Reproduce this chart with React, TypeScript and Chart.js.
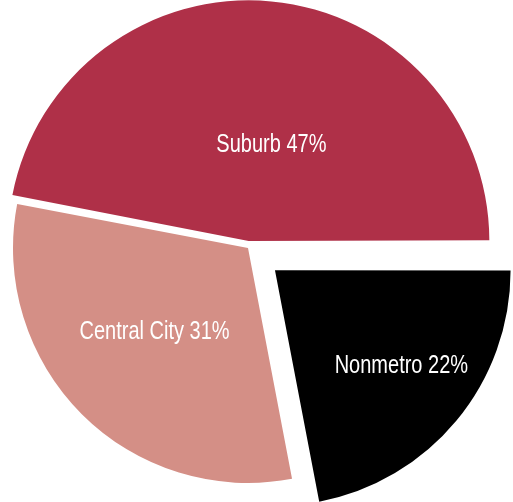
import React, { useEffect, useRef } from "react";
import { Chart, registerables } from "chart.js";

Chart.register(...registerables);

const categories = ["Nonmetro", "Central City", "Suburb"];
const shares = [22, 31, 47];
const sliceColors = ["#000000", "#D48F86", "#AF3048"];
// explode distance in pixels (Chart.js divides the arc offset option by 4)
const sliceOffsetPx = [35, 0, 7];
const labelRadiusFrac = [0.67, 0.53, 0.43];
const labelAngleShiftDeg = [-3, 3.6, 7.6];

const labelPlugin = {
  id: "sliceLabels",
  afterDatasetsDraw(chart: any) {
    const ctx = chart.ctx;
    const meta = chart.getDatasetMeta(0);
    const fontSize = 25;
    const squeeze = 0.8;
    ctx.save();
    ctx.fillStyle = "#ffffff";
    ctx.font = `${fontSize}px 'Liberation Sans', Arial, sans-serif`;
    ctx.textAlign = "center";
    ctx.textBaseline = "alphabetic";
    meta.data.forEach((arc: any, i: number) => {
      const p = arc.getProps(["x", "y", "startAngle", "endAngle", "outerRadius"], true);
      const mid = (p.startAngle + p.endAngle) / 2;
      const off = sliceOffsetPx[i];
      const ox = p.x + Math.cos(mid) * off;
      const oy = p.y + Math.sin(mid) * off;
      const a = mid + (labelAngleShiftDeg[i] * Math.PI) / 180;
      const d = labelRadiusFrac[i] * p.outerRadius;
      const lx = ox + Math.cos(a) * d;
      const ly = oy + Math.sin(a) * d;
      ctx.save();
      ctx.translate(lx, ly + fontSize * 0.36);
      ctx.scale(squeeze, 1);
      ctx.fillText(`${categories[i]} ${shares[i]}%`, 0, 0);
      ctx.restore();
    });
    ctx.restore();
  },
};

export default function App() {
  const ref = useRef<HTMLCanvasElement | null>(null);
  useEffect(() => {
    if (!ref.current) return;
    const chart = new Chart(ref.current, {
      type: "pie",
      data: {
        labels: categories,
        datasets: [
          {
            data: shares,
            backgroundColor: sliceColors,
            borderWidth: 0,
            offset: sliceOffsetPx.map((v) => v * 4),
          },
        ],
      },
      options: {
        responsive: false,
        animation: false,
        rotation: 90,
        radius: 235,
        layout: { padding: { left: 0, right: 17, top: 0, bottom: 6 } },
        plugins: {
          legend: { display: false },
          tooltip: { enabled: false },
        },
        events: [],
      },
      plugins: [labelPlugin],
    } as any);
    return () => chart.destroy();
  }, []);
  return (
    <div style={{ position: "fixed", left: 0, top: 0, width: 513, height: 502, background: "#ffffff" }}>
      <canvas ref={ref} width={513} height={502} style={{ display: "block" }} />
    </div>
  );
}
